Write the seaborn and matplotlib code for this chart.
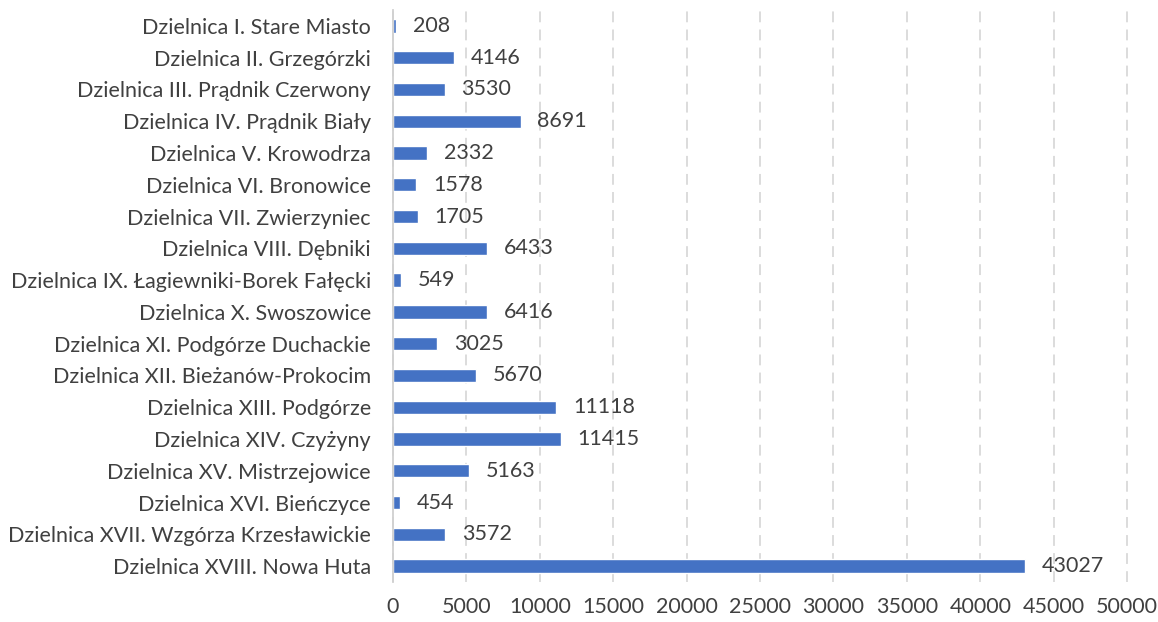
import numpy as np
import pandas as pd
import seaborn as sns
from matplotlib import pyplot as plt

districts = [
    "Dzielnica I. Stare Miasto",
    "Dzielnica II. Grzegórzki",
    "Dzielnica III. Prądnik Czerwony",
    "Dzielnica IV. Prądnik Biały",
    "Dzielnica V. Krowodrza",
    "Dzielnica VI. Bronowice",
    "Dzielnica VII. Zwierzyniec",
    "Dzielnica VIII. Dębniki",
    "Dzielnica IX. Łagiewniki-Borek Fałęcki",
    "Dzielnica X. Swoszowice",
    "Dzielnica XI. Podgórze Duchackie",
    "Dzielnica XII. Bieżanów-Prokocim",
    "Dzielnica XIII. Podgórze",
    "Dzielnica XIV. Czyżyny",
    "Dzielnica XV. Mistrzejowice",
    "Dzielnica XVI. Bieńczyce",
    "Dzielnica XVII. Wzgórza Krzesławickie",
    "Dzielnica XVIII. Nowa Huta",
]
values = [208, 4146, 3530, 8691, 2332, 1578, 1705, 6433, 549, 6416,
          3025, 5670, 11118, 11415, 5163, 454, 3572, 43027]
xticks = [0, 5000, 10000, 15000, 20000, 25000, 30000, 35000, 40000, 45000, 50000]

df = pd.DataFrame({"Dzielnica": districts, "Liczba": values})

sns.set_style("white")
plt.rcParams['font.family'] = ['Lato', 'DejaVu Sans']
text_color = '#404040'

fig = plt.figure(figsize=(11.58, 6.22), dpi=100)
ax = fig.add_axes([0.3394, 0.0643, 0.6339, 0.9197])
sns.barplot(x="Liczba", y="Dzielnica", data=df, color="#4472C4", width=0.42,
            orient="h", ax=ax, saturation=1)

for i, v in enumerate(values):
    ax.annotate(str(v), (v, i), xytext=(12, 0), textcoords="offset points",
                va="center", ha="left", fontsize=15.5, color=text_color)

ax.set_xlim(0, 50000)
ax.set_ylim(17.5, -0.5)
ax.set_xticks(xticks)
ax.set_xticklabels([str(t) for t in xticks])
ax.tick_params(axis='x', length=0, pad=11, labelsize=15.5, colors=text_color)
ax.tick_params(axis='y', length=0, pad=16, labelsize=15.5, colors=text_color)
ax.set_xlabel("")
ax.set_ylabel("")
ax.xaxis.grid(True, color='#d9d9d9', linestyle=(0, (6, 4)), linewidth=1.3, clip_on=False)
ax.set_axisbelow(True)
for s in ['top', 'right', 'bottom']:
    ax.spines[s].set_visible(False)
ax.spines['left'].set_color('#d0d0d0')
ax.spines['left'].set_linewidth(1.3)

plt.savefig('out.png', dpi=100)
